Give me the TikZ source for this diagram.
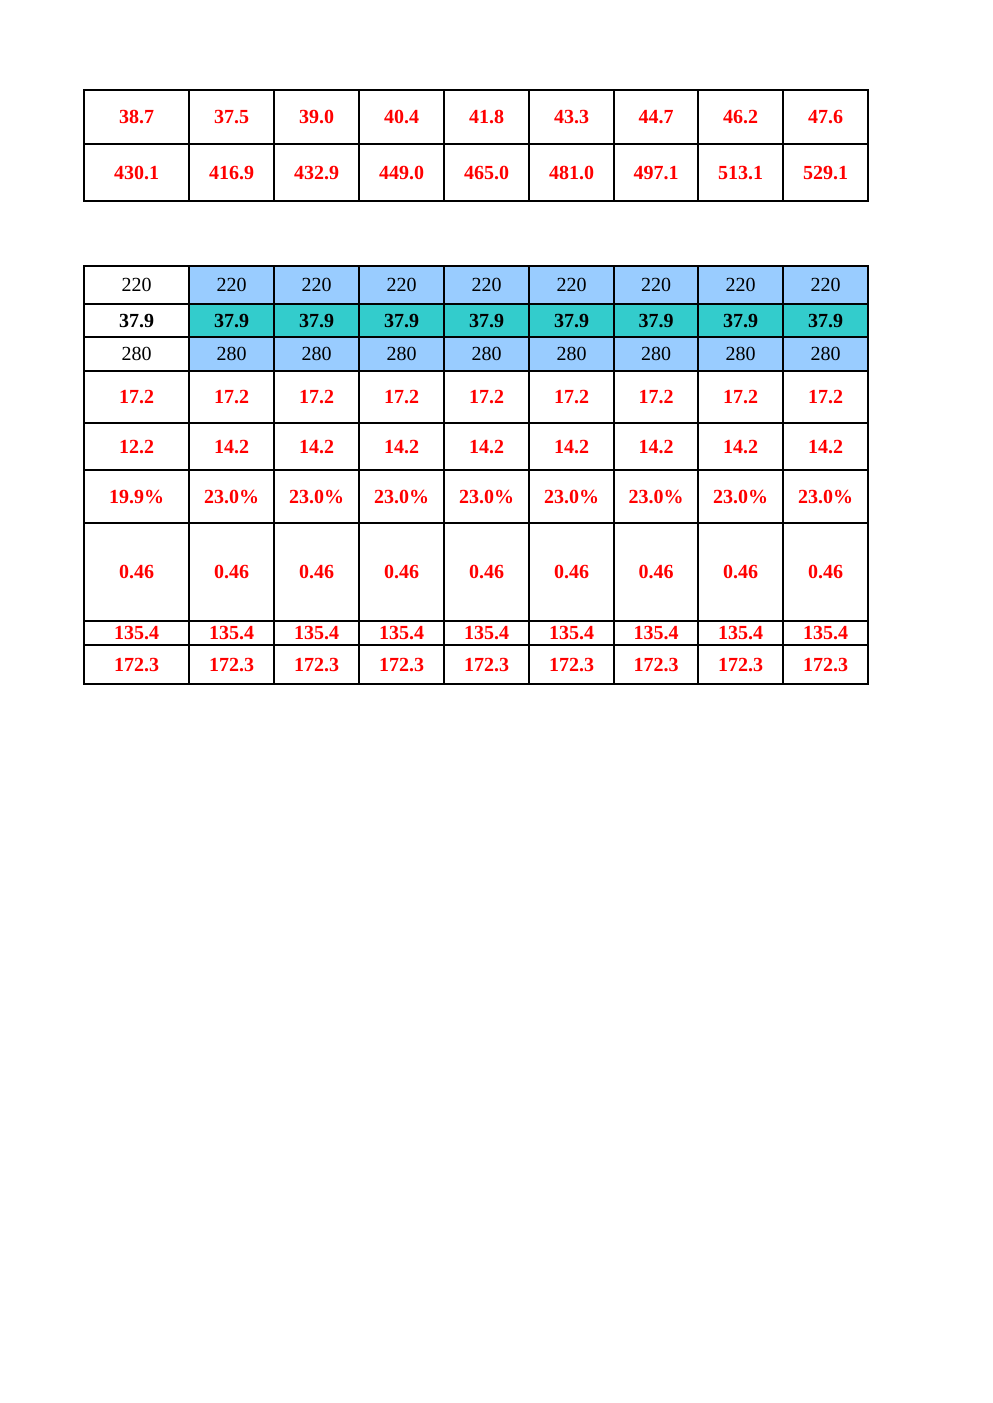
\documentclass[tikz,border=0pt]{standalone}
\usepackage{fontspec}
\setmainfont{Liberation Serif}
\definecolor{cellblue}{HTML}{99CCFF}
\definecolor{cellteal}{HTML}{33CCCC}

\begin{document}
\begin{tikzpicture}[x=0.6pt,y=-0.6pt]

  \tikzstyle{cell}=[rectangle,draw,line width=0.7pt,inner sep=0pt,text=red,
                    text height=8pt,text depth=0pt,
                    font=\fontsize{12}{14}\selectfont\bfseries]
  \tikzstyle{frame}=[line width=1pt]

  \useasboundingbox (0,0) rectangle (992,1403);

  % upper table
  \foreach \l/\r/\ta/\tb [count=\c] in {84/189/38.7/430.1, 189/274/37.5/416.9,
      274/359/39.0/432.9, 359/444/40.4/449.0, 444/529/41.8/465.0,
      529/614/43.3/481.0, 614/698/44.7/497.1, 698/783/46.2/513.1,
      783/868/47.6/529.1}{
    \node[cell,minimum width={(\r-\l)*0.6pt},minimum height={54*0.6pt}]
      (up-\c-1) at ({(\l+\r)/2},117) {\ta};
    \node[cell,minimum width={(\r-\l)*0.6pt},minimum height={57*0.6pt}]
      (up-\c-2) at ({(\l+\r)/2},172.5) {\tb};
  }
  \draw[frame] (up-1-1.north west) rectangle (up-9-2.south east);

  % lower table
  \foreach \t/\b/\txt/\first/\fc/\tc/\w [count=\n] in {
      266/304/220/220/cellblue/black/\mdseries,
      304/337/37.9/37.9/cellteal/black/\bfseries,
      337/371/280/280/cellblue/black/\mdseries,
      371/423/17.2/17.2/white/red/\bfseries,
      423/470/14.2/12.2/white/red/\bfseries,
      470/523/23.0\%/19.9\%/white/red/\bfseries,
      523/621/0.46/0.46/white/red/\bfseries,
      621/645/135.4/135.4/white/red/\bfseries,
      645/684/172.3/172.3/white/red/\bfseries}{
    \node[cell,fill=white,text=\tc,execute at begin node=\w,minimum width={105*0.6pt},
      minimum height={(\b-\t)*0.6pt}] (low-1-\n) at (136.5,{(\t+\b)/2}) {\first};
    \foreach \l/\r [count=\c from 2] in {189/274, 274/359, 359/444, 444/529,
        529/614, 614/698, 698/783, 783/868}{
      \node[cell,fill=\fc,text=\tc,execute at begin node=\w,minimum width={(\r-\l)*0.6pt},
        minimum height={(\b-\t)*0.6pt}] (low-\c-\n) at ({(\l+\r)/2},{(\t+\b)/2}) {\txt};
    }
  }
  \draw[frame] (low-1-1.north west) rectangle (low-9-9.south east);
\end{tikzpicture}
\end{document}
